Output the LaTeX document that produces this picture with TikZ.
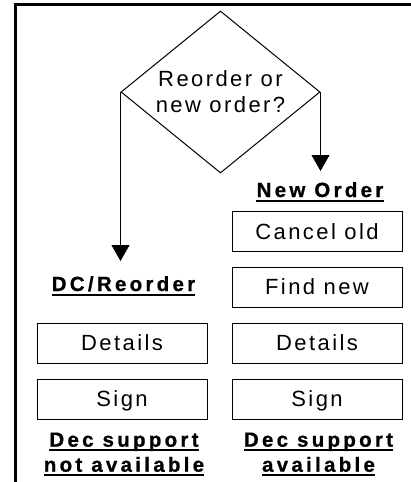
\documentclass[tikz,border=0pt]{standalone}
\usepackage{fontspec}
\setmainfont{Liberation Sans}
% letter-spaced faces for the box texts and the bold headings
\newfontfamily\boxfont[LetterSpace=11]{Liberation Sans}
\newfontfamily\headfont[LetterSpace=16,BoldFeatures={FakeBold=0.8}]{Liberation Sans}
\usetikzlibrary{shapes.geometric,arrows.meta}

\begin{document}
\begin{tikzpicture}[x=1pt,y=-1pt,
  stepbox/.style={draw,line width=1pt,minimum width=170pt,minimum height=40pt,
    inner sep=0pt,text height=15.75pt,text depth=0pt,
    font=\boxfont\fontsize{22}{26}\selectfont},
  decision/.style={draw,diamond,line width=1pt,aspect=1.23,
    minimum width=199pt,minimum height=162pt,inner sep=0pt,align=center,
    font=\boxfont\fontsize{22}{26}\selectfont},
  heading/.style={inner sep=0pt,anchor=base,
    font=\headfont\bfseries\fontsize{20.5}{24}\selectfont},
  ulline/.style={line width=2pt},
  flow/.style={line width=1pt,-{Triangle[width=18pt,length=16pt]}}]
\useasboundingbox (0,0) rectangle (411,482);

% frame along the left and top
\draw[line width=2.5pt] (15.5,482) -- (15.5,4.5) -- (411,4.5);

% decision
\node[decision] (q) at (220.5,92) {Reorder or\\new order?};

% new order column
\node[heading] (newh) at (320,197) {New Order};
\node[stepbox] (cancel) at (317,231.5) {Cancel old};
\node[stepbox] (find) at (317,287) {Find new};
\node[stepbox] (detR) at (317,343) {Details};
\node[stepbox] (signR) at (317,399) {Sign};
\node[heading] (decR1) at (318.5,446.7) {Dec support};
\node[heading] (decR2) at (318.5,471.7) {available};

% reorder column
\node[heading] (dch) at (123.5,291) {DC/Reorder};
\node[stepbox] (detL) at (122,343) {Details};
\node[stepbox] (signL) at (122,399) {Sign};
\node[heading] (decL1) at (124,446.7) {Dec support};
\node[heading] (decL2) at (124,471.7) {not available};

% underlines of the headings
\foreach \h in {newh,dch,decR1,decR2,decL1,decL2}
  \draw[ulline] ([yshift=-3.5pt]\h.base west) -- ([yshift=-3.5pt]\h.base east);

% branches
\coordinate (dcTip) at (121,261);
\coordinate (noTip) at (320,171);
\draw[flow] (q.west) -- (q.west |- dcTip);
\draw[flow] (q.east) -- (q.east |- noTip);
\end{tikzpicture}
\end{document}
